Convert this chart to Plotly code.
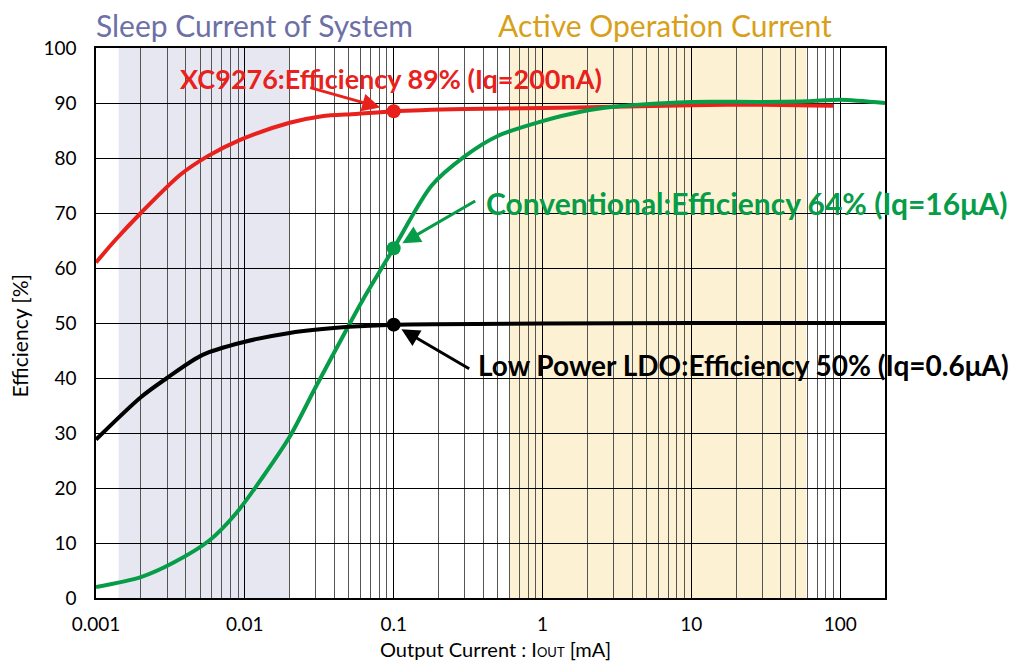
import plotly.graph_objects as go

# ---------------- data ----------------
xc9276_x = [0.001, 0.00134, 0.002, 0.0037, 0.0056, 0.0093, 0.02, 0.033, 0.056, 0.1, 0.3, 1, 3, 10, 30, 90]
xc9276_y = [61, 65, 70, 77.0, 80.3, 83.3, 86.4, 87.6, 88.0, 88.5, 88.9, 89.1, 89.3, 89.6, 89.7, 89.5]

ldo_x = [0.001, 0.002, 0.003, 0.0052, 0.0097, 0.02, 0.05, 0.1, 1, 10, 200]
ldo_y = [28.8, 36.5, 40, 44.2, 46.5, 48.2, 49.3, 49.7, 49.9, 50, 50]

conv_x = [0.001, 0.002, 0.0033, 0.0058, 0.0088, 0.0132, 0.02, 0.03, 0.05, 0.062, 0.1, 0.18,
          0.3, 0.5, 1.0, 1.8, 3, 6, 10, 30, 60, 100, 200]
conv_y = [2.0, 3.8, 6.4, 10.5, 15.5, 22, 29.3, 38.4, 49.6, 54.2, 63.6, 75,
          80.3, 84, 86.7, 88.4, 89.3, 89.9, 90.2, 90.2, 90.3, 90.6, 90.0]

point_x = 0.1
point_xc9276 = 88.5
point_conv = 63.6
point_ldo = 49.7

sleep_range = [0.00142, 0.0199]
active_range = [0.6, 59]

x_tickvals = [0.001, 0.01, 0.1, 1, 10, 100]
x_ticktext = ["0.001", "0.01", "0.1", "1", "10", "100"]
y_tickvals = list(range(0, 101, 10))

RED = "#e8211d"
GREEN = "#079c48"
BLACK = "#000000"
FONT = "Lato"

fig = go.Figure()

fig.add_trace(go.Scatter(x=xc9276_x, y=xc9276_y, mode="lines", line=dict(color=RED, width=4, shape="spline", smoothing=0.8),
                         showlegend=False, hoverinfo="skip"))
fig.add_trace(go.Scatter(x=conv_x, y=conv_y, mode="lines", line=dict(color=GREEN, width=4, shape="spline", smoothing=0.8),
                         showlegend=False, hoverinfo="skip"))
fig.add_trace(go.Scatter(x=ldo_x, y=ldo_y, mode="lines", line=dict(color=BLACK, width=4, shape="spline", smoothing=0.8),
                         showlegend=False, hoverinfo="skip"))
fig.add_trace(go.Scatter(x=[point_x, point_x, point_x], y=[point_xc9276, point_conv, point_ldo], mode="markers",
                         marker=dict(color=[RED, GREEN, BLACK], size=14), showlegend=False, hoverinfo="skip"))

# white label backgrounds (drawn first), then translucent shaded regions on top of them
shapes = [
    dict(type="rect", xref="paper", yref="paper", x0=0.090, x1=0.585, y0=0.911, y1=0.995,
         fillcolor="white", line=dict(width=0), layer="below"),
    dict(type="rect", xref="paper", yref="paper", x0=0.477, x1=1.0, y0=0.674, y1=0.76,
         fillcolor="white", line=dict(width=0), layer="below"),
    dict(type="rect", xref="paper", yref="paper", x0=0.476, x1=1.0, y0=0.383, y1=0.469,
         fillcolor="white", line=dict(width=0), layer="below"),
    dict(type="rect", xref="x", yref="paper", x0=sleep_range[0], x1=sleep_range[1], y0=0, y1=1,
         fillcolor="rgba(100,108,170,0.16)", line=dict(width=0), layer="below"),
    dict(type="rect", xref="x", yref="paper", x0=active_range[0], x1=active_range[1], y0=0, y1=1,
         fillcolor="rgba(245,190,60,0.22)", line=dict(width=0), layer="below"),
]

annotations = [
    dict(text="Sleep Current of System", xref="paper", yref="paper", x=0.2015, y=1.0418,
         xanchor="center", yanchor="middle", showarrow=False, font=dict(family=FONT, size=30, color="#6d70a7")),
    dict(text="Active Operation Current", xref="paper", yref="paper", x=0.721, y=1.0418,
         xanchor="center", yanchor="middle", showarrow=False, font=dict(family=FONT, size=30, color="#d8a01a")),
    dict(text="<b>XC9276:Efficiency 89% (Iq=200nA)</b>", xref="paper", yref="paper", x=0.104, y=0.945,
         xanchor="left", yanchor="middle", showarrow=False, font=dict(family=FONT, size=27, color=RED)),
    dict(text="<b>Conventional:Efficiency 64% (Iq=16μA)</b>", xref="paper", yref="paper", x=0.492, y=0.718,
         xanchor="left", yanchor="middle", showarrow=False, font=dict(family=FONT, size=30, color=GREEN)),
    dict(text="<b>Low Power LDO:Efficiency 50% (Iq=0.6μA)</b>", xref="paper", yref="paper", x=0.482, y=0.4236,
         xanchor="left", yanchor="middle", showarrow=False, font=dict(family=FONT, size=28, color=BLACK)),
    # axis titles
    dict(text="Output Current : I<span style='font-size:13px'>OUT</span> [mA]", xref="paper", yref="paper",
         x=0.506, y=-0.0925, xanchor="center", yanchor="middle", showarrow=False,
         font=dict(family=FONT, size=20, color="black")),
    dict(text="Efficiency [%]", xref="paper", yref="paper", x=-0.097, y=0.478, textangle=-90,
         xanchor="center", yanchor="middle", showarrow=False, font=dict(family=FONT, size=21, color="black")),
    # arrows
    dict(text="", x=-1, y=point_xc9276, xref="x", yref="y", ax=-85, ay=-24, showarrow=True,
         arrowhead=2, arrowsize=1.2, arrowwidth=3, arrowcolor=RED, standoff=14),
    dict(text="", x=-1, y=point_conv, xref="x", yref="y", ax=83, ay=-48, showarrow=True,
         arrowhead=2, arrowsize=1.2, arrowwidth=3, arrowcolor=GREEN, standoff=10),
    dict(text="", x=-1, y=point_ldo, xref="x", yref="y", ax=77, ay=45, showarrow=True,
         arrowhead=2, arrowsize=1.2, arrowwidth=3, arrowcolor=BLACK, standoff=9),
]

# the page body adds an 8px offset, so the figure is 8px smaller and margins shifted
fig.update_layout(
    width=1017, height=653,
    margin=dict(l=88, r=140, t=40, b=63),
    paper_bgcolor="white", plot_bgcolor="white",
    shapes=shapes, annotations=annotations,
    font=dict(family=FONT, color="black"),
    xaxis=dict(
        type="log", range=[-3, 2.301], automargin=False,
        tickvals=x_tickvals, ticktext=x_ticktext, tickfont=dict(size=19, family=FONT),
        showgrid=True, gridcolor="#000000", gridwidth=1,
        minor=dict(dtick="D1", showgrid=True, gridcolor="#555555", gridwidth=1, ticks=""),
        showline=True, linecolor="black", linewidth=1.5, mirror=True,
        ticks="", ticklabelstandoff=8,
        zeroline=False,
    ),
    yaxis=dict(
        range=[0, 100], tickvals=y_tickvals, tickfont=dict(size=19, family=FONT), automargin=False,
        showgrid=True, gridcolor="#000000", gridwidth=1,
        showline=True, linecolor="black", linewidth=1.5, mirror=True,
        ticks="", ticklabelstandoff=14,
        zeroline=False,
    ),
)

fig.write_html("out.html")
